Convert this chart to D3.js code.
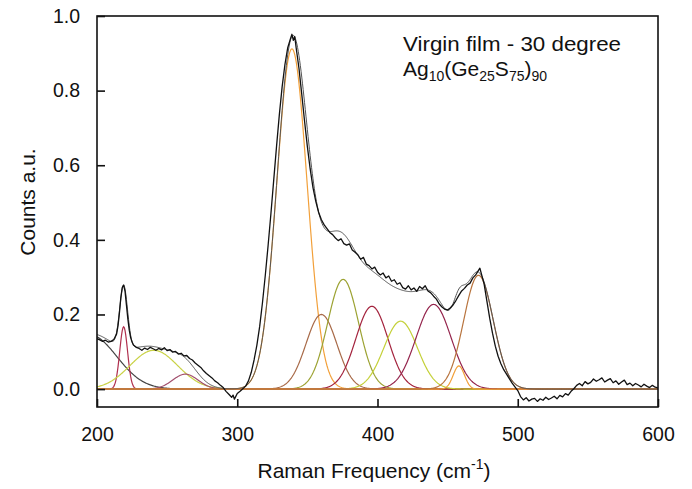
<!DOCTYPE html>
<html><head><meta charset="utf-8">
<script src="https://cdn.jsdelivr.net/npm/d3@7"></script>
<style>
html,body{margin:0;padding:0;background:#fff;}
svg text{font-family:"Liberation Sans",Arial,sans-serif;fill:#111;}
</style></head>
<body><svg id="c" width="692" height="489"></svg>
<script>
// ---- data ----
const ramanShift = [200,202,204,206,208,210,212,214,215,216,217,218,219,220,221,222,223,224,225,226,228,230,232,234,236,238,240,242,244,246,248,250,252,254,256,258,260,262,264,266,268,270,272,274,276,278,280,282,284,286,288,290,292,294,296,297,298,300,302,304,306,308,310,312,314,316,318,320,322,324,326,328,330,332,334,336,338,339,340,341,342,344,346,348,350,352,354,356,358,360,362,364,366,368,370,372,374,376,378,380,382,384,386,388,390,392,394,396,398,400,402,404,406,408,410,412,414,416,418,420,422,424,426,428,430,432,434,436,438,440,442,444,446,448,450,452,454,456,458,460,462,464,466,468,470,472,473,474,475,476,478,480,482,484,486,488,490,492,494,496,498,500,502,504,506,508,510,512,514,516,518,520,522,524,526,528,530,532,534,536,538,540,542,544,546,548,550,552,554,556,558,560,562,564,566,568,570,572,574,576,578,580,582,584,586,588,590,592,594,596,598,600];
const counts = [0.135,0.132,0.128,0.131,0.126,0.128,0.133,0.148,0.170,0.205,0.245,0.272,0.279,0.262,0.225,0.188,0.158,0.138,0.126,0.118,0.112,0.109,0.104,0.110,0.106,0.112,0.108,0.104,0.109,0.105,0.111,0.103,0.106,0.099,0.101,0.094,0.096,0.089,0.090,0.082,0.078,0.070,0.064,0.058,0.049,0.042,0.036,0.030,0.022,0.017,0.010,0.004,-0.006,-0.014,-0.022,-0.016,-0.027,-0.012,-0.006,0.001,0.008,0.022,0.045,0.078,0.118,0.168,0.232,0.305,0.385,0.470,0.560,0.650,0.735,0.810,0.870,0.915,0.940,0.951,0.935,0.945,0.915,0.860,0.790,0.718,0.650,0.590,0.540,0.503,0.474,0.454,0.440,0.430,0.420,0.414,0.405,0.398,0.403,0.390,0.386,0.389,0.373,0.367,0.360,0.348,0.353,0.335,0.331,0.322,0.327,0.313,0.306,0.311,0.298,0.303,0.289,0.293,0.281,0.285,0.272,0.268,0.277,0.266,0.271,0.262,0.275,0.269,0.277,0.263,0.258,0.249,0.241,0.228,0.220,0.214,0.212,0.218,0.226,0.238,0.251,0.263,0.270,0.279,0.284,0.298,0.306,0.318,0.324,0.310,0.296,0.282,0.236,0.190,0.150,0.115,0.088,0.068,0.052,0.040,0.028,0.016,0.006,-0.004,-0.020,-0.029,-0.023,-0.032,-0.027,-0.025,-0.033,-0.026,-0.030,-0.022,-0.028,-0.024,-0.019,-0.026,-0.017,-0.021,-0.012,-0.016,-0.006,0.001,0.010,0.015,0.009,0.020,0.014,0.018,0.027,0.021,0.025,0.030,0.019,0.024,0.028,0.017,0.022,0.013,0.019,0.024,0.012,0.016,0.009,0.015,0.011,0.006,0.013,0.008,0.004,0.010,0.005,0.003];

// fitted Gaussian components: centre (cm-1), height, sigma (cm-1)
const peakCenters = [195, 219, 240.5, 263, 339, 360, 375.5, 396, 416.5, 440, 458, 472];
const peakHeights = [0.145, 0.167, 0.104, 0.040, 0.912, 0.200, 0.294, 0.222, 0.182, 0.227, 0.062, 0.305];
const peakSigmas  = [19, 2.8, 17, 9, 10.8, 11, 11, 11.5, 12, 12.5, 4, 10.5];

const xTicks = [200, 300, 400, 500, 600];
const yTicks = [0.0, 0.2, 0.4, 0.6, 0.8, 1.0];

// ---- styles ----
const peakColors = ["#454545","#b0304e","#c9d246","#a2506e","#f2a03a","#a86a48","#9ca232","#a4243e","#c4d038","#94244c","#f2a03a","#b8743e"];

const svg = d3.select("#c");
const L = 97, R = 658, T = 16, B = 407;
const x = d3.scaleLinear().domain([200, 600]).range([L, R]);
const y = d3.scaleLinear().domain([-0.048, 1.0]).range([B, T]);

const grid = d3.range(200, 600.001, 0.5);
const gauss = (xv, i) => peakHeights[i] * Math.exp(-Math.pow(xv - peakCenters[i], 2) / (2 * peakSigmas[i] * peakSigmas[i]));

svg.append("defs").append("clipPath").attr("id","pc")
  .append("rect").attr("x", L).attr("y", T).attr("width", R - L).attr("height", B - T);
const plot = svg.append("g").attr("clip-path","url(#pc)");

const line = d3.line().x(d => x(d[0])).y(d => y(d[1]));

// components
peakCenters.forEach((c, i) => {
  plot.append("path")
    .datum(grid.map(g => [g, gauss(g, i)]))
    .attr("d", line).attr("fill","none")
    .attr("stroke", peakColors[i]).attr("stroke-width", 1.2);
});

// total fit
plot.append("path")
  .datum(grid.map(g => [g, d3.sum(peakCenters, (c, i) => gauss(g, i))]))
  .attr("d", line).attr("fill","none")
  .attr("stroke", "#555").attr("stroke-width", 1.0);

// measured spectrum
plot.append("path")
  .datum(ramanShift.map((f, i) => [f, counts[i]]))
  .attr("d", line).attr("fill","none")
  .attr("stroke", "#111").attr("stroke-width", 1.3).attr("stroke-linejoin","round");

// frame
svg.append("rect").attr("x", L).attr("y", T).attr("width", R - L).attr("height", B - T)
  .attr("fill","none").attr("stroke","#111").attr("stroke-width", 1.6);

// axes (ticks inward)
const xAxis = d3.axisBottom(x).tickValues(xTicks).tickFormat(d3.format("d")).tickSizeInner(-8).tickSizeOuter(0).tickPadding(20);
const gx = svg.append("g").attr("transform", `translate(0,${B})`).call(xAxis);
const yAxis = d3.axisLeft(y).tickValues(yTicks).tickFormat(d3.format(".1f")).tickSizeInner(-8).tickSizeOuter(0).tickPadding(17);
const gy = svg.append("g").attr("transform", `translate(${L},0)`).call(yAxis);
[gx, gy].forEach(g => {
  g.select(".domain").remove();
  g.selectAll(".tick line").attr("stroke","#111").attr("stroke-width",1.6);
  g.selectAll(".tick text").attr("font-size", 19.5).attr("fill","#111")
   .attr("font-family",'"Liberation Sans",Arial,sans-serif');
});

// axis titles
const xt = svg.append("text").attr("x", 374).attr("y", 478).attr("text-anchor","middle").attr("font-size", 21);
xt.append("tspan").text("Raman Frequency (cm");
xt.append("tspan").attr("font-size", 14).attr("dy", -9).text("-1");
xt.append("tspan").attr("dy", 9).text(")");

svg.append("text").attr("transform","translate(35,202) rotate(-90)")
  .attr("text-anchor","middle").attr("font-size", 21).text("Counts a.u.");

// annotation
svg.append("text").attr("x", 403).attr("y", 51).attr("font-size", 21)
  .attr("textLength", 218).attr("lengthAdjust", "spacingAndGlyphs")
  .text("Virgin film - 30 degree");
const t2 = svg.append("text").attr("x", 403).attr("y", 76).attr("font-size", 21);
t2.append("tspan").text("Ag");
t2.append("tspan").attr("font-size", 14).attr("dy", 5).text("10");
t2.append("tspan").attr("dy", -5).text("(Ge");
t2.append("tspan").attr("font-size", 14).attr("dy", 5).text("25");
t2.append("tspan").attr("dy", -5).text("S");
t2.append("tspan").attr("font-size", 14).attr("dy", 5).text("75");
t2.append("tspan").attr("dy", -5).text(")");
t2.append("tspan").attr("font-size", 14).attr("dy", 5).text("90");
</script></body></html>
